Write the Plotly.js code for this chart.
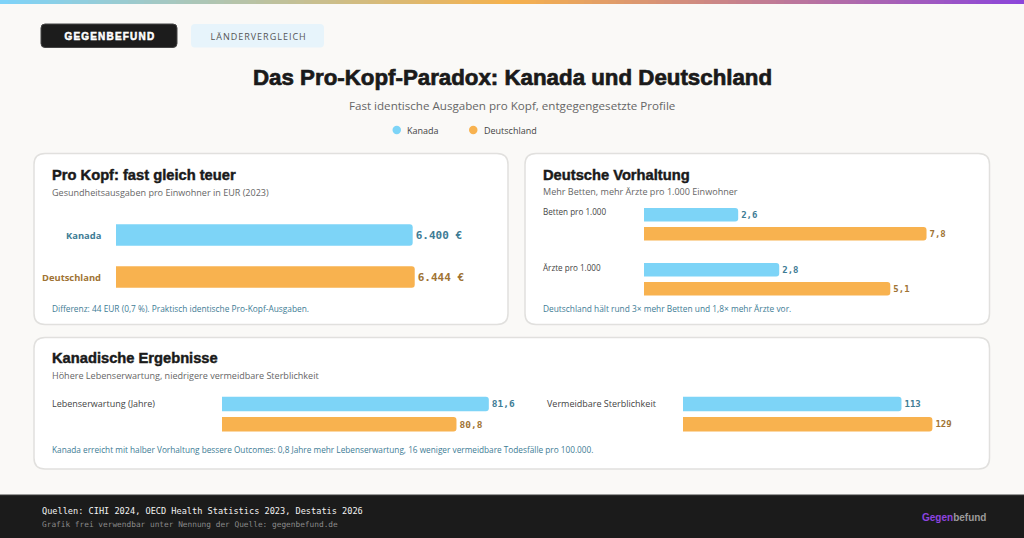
<!DOCTYPE html>
<html>
<head>
<meta charset="utf-8">
<script src="https://cdn.plot.ly/plotly-3.0.1.min.js"></script>
<style>
html,body{margin:0;padding:0;background:#faf9f7;overflow:hidden;}
#chart{width:1024px;height:538px;}
g.annotation[data-index="0"] text{letter-spacing:1.2px;stroke:#ffffff;stroke-width:0.5px;}
g.annotation[data-index="1"] text{letter-spacing:1px;}
g.annotation[data-index="2"] text{stroke:#1a1a1a;stroke-width:0.7px;}
g.annotation[data-index="6"] text,
g.annotation[data-index="11"] text,
g.annotation[data-index="16"] text{stroke:#1a1a1a;stroke-width:0.45px;}
</style>
</head>
<body>
<div id="chart"></div>
<script>
// ---- data ----
const countries = ["Kanada", "Deutschland"];
const spendPerCapita = [6400, 6444];          // EUR 2023
const bedsPer1000 = [2.6, 7.8];
const doctorsPer1000 = [2.8, 5.1];
const lifeExpectancy = [81.6, 80.8];           // years
const avoidableMortality = [113, 129];         // per 100.000

// ---- style ----
const BAR = ["#7dd4f7", "#f8b24f"];
const TXT = ["#3e7c95", "#a07334"];
const HEAD = "Liberation Sans, Arial, sans-serif";
const BODY = "Open Sans, Noto Sans, sans-serif";
const MONO = "DejaVu Sans Mono, Liberation Mono, monospace";

const W = 1024, H = 538;
const px = x => x / W;
const py = y => 1 - y / H;

function rrect(x0, y0, x1, y1, r) {
  const X = px, Y = py;
  return `M${X(x0 + r)},${Y(y0)} L${X(x1 - r)},${Y(y0)} Q${X(x1)},${Y(y0)} ${X(x1)},${Y(y0 + r)} ` +
         `L${X(x1)},${Y(y1 - r)} Q${X(x1)},${Y(y1)} ${X(x1 - r)},${Y(y1)} ` +
         `L${X(x0 + r)},${Y(y1)} Q${X(x0)},${Y(y1)} ${X(x0)},${Y(y1 - r)} ` +
         `L${X(x0)},${Y(y0 + r)} Q${X(x0)},${Y(y0)} ${X(x0 + r)},${Y(y0)} Z`;
}

function barTrace(values, xa, ya, tmpl, size, width) {
  return {
    type: "bar", orientation: "h",
    y: countries.map((c, i) => i), x: values,
    xaxis: xa, yaxis: ya,
    width: width,
    marker: { color: BAR, cornerradius: 3, line: { width: 0 } },
    texttemplate: tmpl, textposition: "outside", cliponaxis: false,
    constraintext: "none",
    textfont: { family: MONO, size: size, color: TXT },
    hoverinfo: "skip", showlegend: false
  };
}

const traces = [
  barTrace(spendPerCapita, "x", "y", "<b>%{x:,.0f} €</b>", 11, 0.51),
  barTrace(bedsPer1000, "x2", "y2", "<b>%{x:.1f}</b>", 9, 0.71),
  barTrace(doctorsPer1000, "x3", "y3", "<b>%{x:.1f}</b>", 9, 0.71),
  barTrace(lifeExpectancy, "x4", "y4", "<b>%{x:.1f}</b>", 9.5, 0.72),
  barTrace(avoidableMortality, "x5", "y5", "<b>%{x:.0f}</b>", 9, 0.72)
];

function xax(d0, d1, range, anchor) {
  return { domain: [px(d0), px(d1)], range: range, anchor: anchor, visible: false, fixedrange: true };
}
function yax(top, bottom, anchor) {
  return { domain: [py(bottom), py(top)], range: [1.5, -0.5], anchor: anchor, visible: false, fixedrange: true };
}

// ---- shapes ----
const shapes = [];
// gradient strip
const stops = [[0, [125, 211, 250]], [0.5, [246, 178, 77]], [1, [139, 69, 219]]];
function gcol(t) {
  let a = stops[0], b = stops[1];
  if (t > 0.5) { a = stops[1]; b = stops[2]; }
  const f = (t - a[0]) / (b[0] - a[0]);
  const c = a[1].map((v, k) => Math.round(v + (b[1][k] - v) * f));
  return `rgb(${c[0]},${c[1]},${c[2]})`;
}
for (let i = 0; i < 128; i++) {
  shapes.push({ type: "rect", xref: "paper", yref: "paper", x0: px(i * 8), x1: px(i * 8 + 8.5),
    y0: py(4), y1: 1, fillcolor: gcol((i * 8 + 4) / W), line: { width: 0 }, layer: "below" });
}
// buttons
shapes.push({ type: "path", xref: "paper", yref: "paper", path: rrect(41, 24, 177, 47.5, 4),
  fillcolor: "#1c1c1c", line: { color: "#444", width: 1 }, layer: "below" });
shapes.push({ type: "path", xref: "paper", yref: "paper", path: rrect(191, 24, 324, 47.5, 4),
  fillcolor: "#e7f4fb", line: { width: 0 }, layer: "below" });
// legend dots
shapes.push({ type: "circle", xref: "paper", yref: "paper", x0: px(392.5), x1: px(401), y0: py(134.2), y1: py(125.8),
  fillcolor: BAR[0], line: { width: 0 } });
shapes.push({ type: "circle", xref: "paper", yref: "paper", x0: px(469), x1: px(477.5), y0: py(134.2), y1: py(125.8),
  fillcolor: BAR[1], line: { width: 0 } });
// cards
[[34, 153.5, 508, 324.5], [525, 153.5, 989.5, 324.5], [34, 337.5, 989.5, 469]].forEach(c => {
  shapes.push({ type: "path", xref: "paper", yref: "paper", path: rrect(c[0], c[1], c[2], c[3], 11),
    fillcolor: "#ffffff", line: { color: "#e1e0de", width: 1.5 }, layer: "below" });
});
// footer
shapes.push({ type: "rect", xref: "paper", yref: "paper", x0: 0, x1: 1, y0: 0, y1: py(495),
  fillcolor: "#1b1b1b", line: { width: 0 }, layer: "below" });
shapes.push({ type: "line", xref: "paper", yref: "paper", x0: 0, x1: 1, y0: py(495), y1: py(495),
  line: { color: "#3a3a3a", width: 1 }, layer: "below" });

// ---- annotations ----
function ann(x, y, text, size, color, family, xanchor, extra) {
  return Object.assign({ xref: "paper", yref: "paper", x: px(x), y: py(y), text: text, showarrow: false,
    xanchor: xanchor || "left", yanchor: "middle", font: { size: size, color: color, family: family } }, extra || {});
}
const annotations = [
  ann(109.5, 36, "<b>GEGENBEFUND</b>", 10, "#ffffff", HEAD, "center"),
  ann(258, 36, "LÄNDERVERGLEICH", 9, "#555555", BODY, "center"),
  ann(512, 77.5, "<b>Das Pro-Kopf-Paradox: Kanada und Deutschland</b>", 22.3, "#1a1a1a", HEAD, "center"),
  ann(512, 105, "Fast identische Ausgaben pro Kopf, entgegengesetzte Profile", 11.6, "#666666", BODY, "center"),
  ann(405, 130, countries[0], 9, "#444444", BODY, "left"),
  ann(481.5, 130, countries[1], 9, "#444444", BODY, "left"),
  // card 1
  ann(50, 175, "<b>Pro Kopf: fast gleich teuer</b>", 14.7, "#1a1a1a", HEAD),
  ann(50, 192, "Gesundheitsausgaben pro Einwohner in EUR (2023)", 9.05, "#666666", BODY),
  Object.assign(ann(102.5, 0, "<b>" + countries[0] + "</b>", 9.4, TXT[0], BODY, "right"), { yref: "y", y: 0 }),
  Object.assign(ann(102.5, 0, "<b>" + countries[1] + "</b>", 9.4, TXT[1], BODY, "right"), { yref: "y", y: 1 }),
  ann(50, 308.5, "Differenz: 44 EUR (0,7 %). Praktisch identische Pro-Kopf-Ausgaben.", 8.35, TXT[0], BODY),
  // card 2
  ann(541, 175, "<b>Deutsche Vorhaltung</b>", 14.7, "#1a1a1a", HEAD),
  ann(541, 191.5, "Mehr Betten, mehr Ärzte pro 1.000 Einwohner", 9.05, "#666666", BODY),
  ann(541, 212, "Betten pro 1.000", 8.1, "#444444", BODY),
  ann(541, 267, "Ärzte pro 1.000", 8.1, "#444444", BODY),
  ann(541, 308.5, "Deutschland hält rund 3× mehr Betten und 1,8× mehr Ärzte vor.", 8.35, TXT[0], BODY),
  // card 3
  ann(50, 358, "<b>Kanadische Ergebnisse</b>", 14.7, "#1a1a1a", HEAD),
  ann(50, 375.5, "Höhere Lebenserwartung, niedrigere vermeidbare Sterblichkeit", 9.05, "#666666", BODY),
  ann(50, 403, "Lebenserwartung (Jahre)", 9, "#444444", BODY),
  ann(545, 403, "Vermeidbare Sterblichkeit", 9, "#444444", BODY),
  ann(50, 449.5, "Kanada erreicht mit halber Vorhaltung bessere Outcomes: 0,8 Jahre mehr Lebenserwartung, 16 weniger vermeidbare Todesfälle pro 100.000.", 8.25, TXT[0], BODY),
  // footer
  ann(40, 510.5, "Quellen: CIHI 2024, OECD Health Statistics 2023, Destatis 2026", 8.6, "#f2f2f2", MONO),
  ann(40, 524.5, "Grafik frei verwendbar unter Nennung der Quelle: gegenbefund.de", 7.8, "#8a8a8a", MONO),
  ann(988, 517.5, "<b><span style=\"color:#8e44e0\">Gegen</span>befund</b>", 10, "#9a9a9a", HEAD, "right")
];

const layout = {
  width: W, height: H,
  margin: { l: 0, r: 0, t: 0, b: 0, pad: 0 },
  paper_bgcolor: "#faf9f7", plot_bgcolor: "rgba(0,0,0,0)",
  separators: ",.",
  showlegend: false,
  font: { family: BODY },
  xaxis: xax(116, 415, [0, 6450], "y"),
  yaxis: yax(214, 298, "x"),
  xaxis2: xax(644, 970, [0, 9], "y2"),
  yaxis2: yax(205.3, 243.3, "x2"),
  xaxis3: xax(644, 970, [0, 6.75], "y3"),
  yaxis3: yax(260.3, 298.3, "x3"),
  xaxis4: xax(222, 505, [75, 82], "y4"),
  yaxis4: yax(393.8, 434.4, "x4"),
  xaxis5: xax(683, 973, [0, 150], "y5"),
  yaxis5: yax(393.8, 434.4, "x5"),
  shapes: shapes,
  annotations: annotations
};

Plotly.newPlot("chart", traces, layout, { displayModeBar: false, staticPlot: true });
</script>
</body>
</html>
